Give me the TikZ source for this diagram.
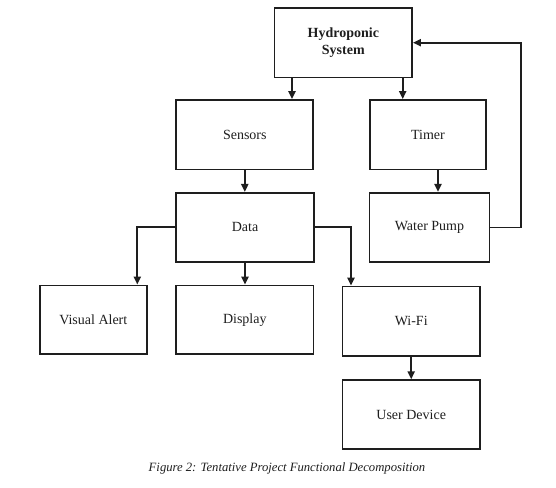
\documentclass[tikz,border=0pt]{standalone}
\usepackage{fontspec}
\setmainfont{Liberation Serif}
\usetikzlibrary{arrows.meta}
\definecolor{ln}{HTML}{1E1E1E}
\tikzset{
  blk/.style={draw=ln, line width=1.4pt, inner sep=0pt, align=center,
    font=\fontsize{10.5pt}{12.5pt}\selectfont, text=ln},
  arr/.style={draw=ln, line width=1.3pt, -{Triangle[length=6pt,width=5.4pt]}},
}
\begin{document}
\begin{tikzpicture}[x=0.75pt,y=-0.75pt]
\useasboundingbox (0,0) rectangle (556,487);
\node[blk, minimum width=137.5*0.75pt, minimum height=69.5*0.75pt, font=\bfseries\fontsize{10.5pt}{12.5pt}\selectfont] (hyd) at (343.3,42.7) {Hydroponic\\System};
\node[blk, minimum width=137*0.75pt, minimum height=69.5*0.75pt] (sens) at (244.8,134.7) {Sensors};
\node[blk, minimum width=116.5*0.75pt, minimum height=69.5*0.75pt] (timer) at (428,134.7) {Timer};
\node[blk, minimum width=137.5*0.75pt, minimum height=69*0.75pt] (data) at (245,227.3) {Data};
\node[blk, minimum width=120*0.75pt, minimum height=69.5*0.75pt] (pump) at (429.5,227.5) {Water Pump};
\node[blk, minimum width=107*0.75pt, minimum height=68.7*0.75pt] (alert) at (93.3,319.8) {Visual Alert};
\node[blk, minimum width=137.3*0.75pt, minimum height=68.7*0.75pt] (disp) at (244.8,319.8) {Display};
\node[blk, minimum width=137.3*0.75pt, minimum height=69.3*0.75pt] (wifi) at (411.2,321.2) {Wi-Fi};
\node[blk, minimum width=137.3*0.75pt, minimum height=69*0.75pt] (user) at (411.2,414.7) {User Device};
\node[font=\itshape\fontsize{9.5pt}{11pt}\selectfont, text=ln] (cap) at (287,468) {Figure 2: Tentative Project Functional Decomposition};
% connectors
\draw[arr] (hyd.south -| 292,0) -- (sens.north -| 292,0);
\draw[arr] (hyd.south -| 402.7,0) -- (timer.north -| 402.7,0);
\draw[arr] (timer.south -| 438,0) -- (pump.north -| 438,0);
\draw[arr] (pump.east) -| (hyd.east -| 520.7,0) -- (hyd.east);
\draw[arr] (sens.south) -- (data.north -| sens.south);
\draw[arr] (data.west) -| (alert.north -| 137.3,0);
\draw[arr] (data.south) -- (disp.north -| data.south);
\draw[arr] (data.east) -| (wifi.north -| 351,0);
\draw[arr] (wifi.south) -- (user.north);
\end{tikzpicture}
\end{document}
